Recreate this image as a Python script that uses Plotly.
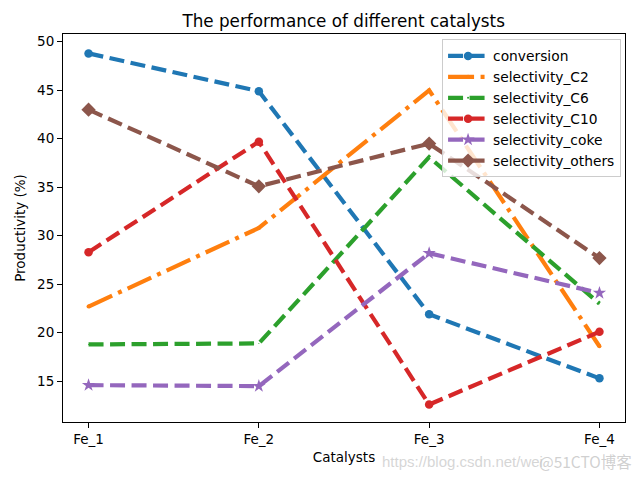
import plotly.graph_objects as go

catalysts = ["Fe_1", "Fe_2", "Fe_3", "Fe_4"]
conversion = [48.8, 44.9, 21.9, 15.3]
selectivity_C2 = [22.7, 30.8, 45.0, 18.6]
selectivity_C6 = [18.8, 18.9, 38.1, 23.0]
selectivity_C10 = [28.3, 39.7, 12.6, 20.1]
selectivity_coke = [14.6, 14.5, 28.2, 24.1]
selectivity_others = [43.0, 35.1, 39.5, 27.7]
y_ticks = [15, 20, 25, 30, 35, 40, 45, 50]

FONT = "DejaVu Sans"
DASH = "15px,6.5px"
DASHDOT = "26px,6.5px,4px,6.5px"
LW = 4.2

series = [
    ("conversion", conversion, "#1f77b4", DASH, "circle", 8.5),
    ("selectivity_C2", selectivity_C2, "#ff7f0e", DASHDOT, "circle", 4),
    ("selectivity_C6", selectivity_C6, "#2ca02c", DASH, "circle", 1),
    ("selectivity_C10", selectivity_C10, "#d62728", DASH, "circle", 8.5),
    ("selectivity_coke", selectivity_coke, "#9467bd", DASH, "star", 10),
    ("selectivity_others", selectivity_others, "#8c564b", DASH, "diamond", 11),
]

x_idx = list(range(len(catalysts)))
fig = go.Figure()
for name, vals, color, dash, sym, size in series:
    fig.add_trace(go.Scatter(
        x=x_idx, y=vals, name=name, mode="lines+markers",
        line=dict(color=color, width=LW, dash=dash),
        marker=dict(symbol=sym, size=size, color=color, line=dict(width=0)),
    ))

axis_common = dict(
    showline=True, linecolor="black", linewidth=1, mirror=True,
    ticks="outside", ticklen=5, tickcolor="black", showgrid=False, zeroline=False,
    tickfont=dict(family=FONT, size=13.5, color="black"),
)

fig.update_layout(
    width=640, height=480,
    margin=dict(l=63, r=15, t=34, b=58),
    paper_bgcolor="white", plot_bgcolor="white",
    font=dict(family=FONT, color="black"),
    title=dict(text="The performance of different catalysts", x=0.537, xanchor="center",
               y=1 - 21 / 480, yanchor="middle", font=dict(family=FONT, size=16.8, color="black")),
    xaxis=dict(range=[-0.15, 3.15], tickmode="array", tickvals=x_idx, ticktext=catalysts,
               title=dict(text="Catalysts", font=dict(family=FONT, size=13.5), standoff=6),
               **axis_common),
    yaxis=dict(range=[10.8, 50.8], tickmode="array", tickvals=y_ticks,
               title=dict(text="Productivity (%)", font=dict(family=FONT, size=13.5), standoff=8),
               **axis_common),
    legend=dict(x=0.993, y=0.986, xanchor="right", yanchor="top",
                bgcolor="rgba(255,255,255,0.8)", bordercolor="#cccccc", borderwidth=1,
                font=dict(family=FONT, size=13.8, color="black"),
                tracegroupgap=0, itemwidth=40),
    showlegend=True,
)

fig.add_annotation(text="https://blog.csdn.net/wei", xref="paper", yref="paper",
                   x=(380 - 63) / 562, y=(422 - 461) / 388, xanchor="left", yanchor="middle",
                   showarrow=False, font=dict(family="Liberation Sans", size=15, color="rgba(200,200,200,0.75)"))
fig.add_annotation(text="@51CTO博客", xref="paper", yref="paper",
                   x=(537 - 63) / 562, y=(422 - 461) / 388, xanchor="left", yanchor="middle",
                   showarrow=False, font=dict(family="Noto Sans CJK SC", size=15.5, color="rgba(200,200,200,0.85)"))

fig.write_html("out.html")
